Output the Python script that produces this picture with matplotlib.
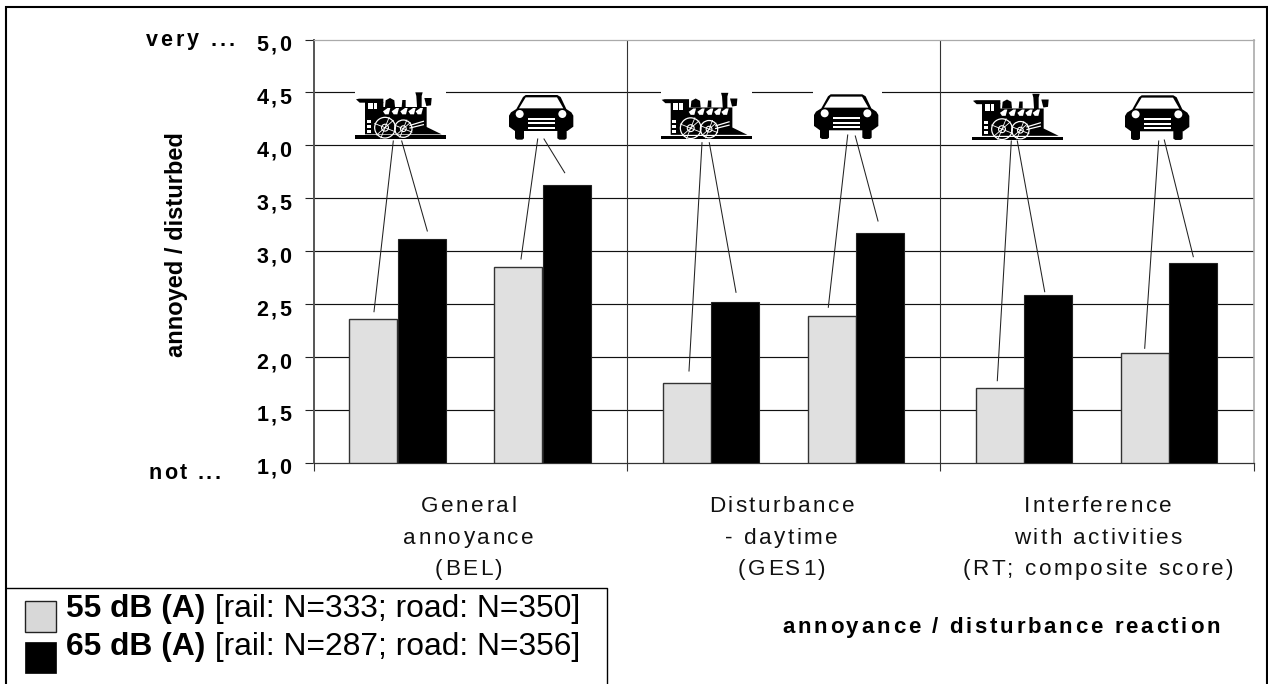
import numpy as np
import matplotlib
matplotlib.use('Agg')
import matplotlib.pyplot as plt
from matplotlib import font_manager
from matplotlib.ft2font import LoadFlags
from matplotlib.patches import Rectangle, Polygon, Circle
from matplotlib.text import Text
from matplotlib.transforms import IdentityTransform, ScaledTranslation

plt.rcParams['font.family'] = ['Liberation Sans', 'DejaVu Sans']

categories = ['General\nannoyance\n(BEL)', 'Disturbance\n- daytime\n(GES1)',
              'Interference\nwith activities\n(RT; composite score)']
rail_55 = [2.36, 1.76, 1.71]
rail_65 = [3.12, 2.52, 2.59]
road_55 = [2.85, 2.39, 2.04]
road_65 = [3.63, 3.17, 2.89]
y_ticks = [1.0, 1.5, 2.0, 2.5, 3.0, 3.5, 4.0, 4.5, 5.0]
y_tick_labels = ['1,0', '1,5', '2,0', '2,5', '3,0', '3,5', '4,0', '4,5', '5,0']
legend_bold = ['55 dB (A)', '65 dB (A)']
legend_rest = [' [rail: N=333; road: N=350]', ' [rail: N=287; road: N=356]']

GREY = '#e0e0e0'

W, H = 1268, 684
fig = plt.figure(figsize=(W / 100, H / 100), dpi=100)
ax = fig.add_axes([314 / W, 1 - 463 / H, (1253.5 - 314) / W, (463 - 39.5) / H])
ax.set_xlim(0, 3)
ax.set_ylim(1, 5)


def spaced(t, gap, pitch=0):
    """Letter-spacing for one Text: the artist keeps its string, only the draw changes."""
    def draw(renderer):
        fp = t.get_fontproperties()
        font = font_manager.get_font(font_manager.findfont(fp))
        font.set_size(fp.get_size_in_points(), fig.dpi)
        x, y = t.get_transform().transform(t.get_unitless_position())
        ang = np.deg2rad(t.get_rotation())
        along = np.array([np.cos(ang), np.sin(ang)])
        down = np.array([np.sin(ang), -np.cos(ang)])
        for n, line in enumerate(t.get_text().split('\n')):
            adv = [font.load_char(ord(c), flags=LoadFlags.NO_HINTING).linearHoriAdvance / 65536 for c in line]
            total = sum(adv) + gap * (len(line) - 1)
            shift = {'left': 0, 'center': total / 2, 'right': total}[t.get_ha()]
            pos = np.array([x, y]) - along * shift + down * pitch * n
            for c, a in zip(line, adv):
                if c != ' ':
                    g = Text(pos[0], pos[1], c, fontproperties=fp, color=t.get_color(), rotation=t.get_rotation(),
                             rotation_mode='anchor', ha='left', va='baseline', transform=IdentityTransform())
                    g.set_figure(fig)
                    g.draw(renderer)
                pos = pos + along * (a + gap)
        t.stale = False
    t.draw = draw
    return t


# bars, offsets inside each category
bar_w = 0.1534
for i in range(3):
    ax.bar(i + 0.113, rail_55[i] - 1, bar_w, bottom=1, align='edge', color=GREY, edgecolor='#333333', lw=1, zorder=3)
    ax.bar(i + 0.267, rail_65[i] - 1, bar_w, bottom=1, align='edge', color='black', edgecolor='#222222', lw=0.8, zorder=3)
    ax.bar(i + 0.576, road_55[i] - 1, bar_w, bottom=1, align='edge', color=GREY, edgecolor='#333333', lw=1, zorder=3)
    ax.bar(i + 0.730, road_65[i] - 1, bar_w, bottom=1, align='edge', color='black', edgecolor='#222222', lw=0.8, zorder=3)

ax.set_yticks(y_ticks)
ax.set_yticklabels(y_tick_labels, fontsize=15.5, fontweight='bold')
ax.set_xticks([0, 1, 2, 3])
ax.set_xticklabels([])
ax.tick_params(axis='y', length=6.5, width=0.8, pad=10, color='#222222')
ax.tick_params(axis='x', length=5.5, width=0.8, color='#333333')
for lab in ax.get_yticklabels():
    lab.set_va('baseline')
    lab.set_transform(lab.get_transform() + ScaledTranslation(0, -8.2 / 72, fig.dpi_scale_trans))
    spaced(lab, 2.5)
for v in y_ticks[1:-1]:
    ax.axhline(v, color='#111111', lw=0.85, zorder=1)
for x in [1, 2]:
    ax.axvline(x, color='#333333', lw=0.8, zorder=1)
ax.spines['left'].set_color('#555555')
ax.spines['left'].set_linewidth(1.4)
ax.spines['bottom'].set_color('#333333')
ax.spines['bottom'].set_linewidth(0.9)
ax.spines['top'].set_color('#aaaaaa')
ax.spines['top'].set_linewidth(0.9)
ax.spines['right'].set_color('#aaaaaa')
ax.spines['right'].set_linewidth(1.2)

# overlay in pixel coordinates for icons, leaders, frame and legend
ov = fig.add_axes([0, 0, 1, 1], facecolor='none')
ov.set_xlim(0, W)
ov.set_ylim(H, 0)
ov.axis('off')


def train(x0, y0):
    # outline traced from the locomotive, local units = 1/3 pixel
    def p(pts):
        return [(x0 + a / 3, y0 + b / 3) for a, b in pts]
    k = dict(color='black', lw=0, zorder=6)
    ov.add_patch(Polygon(p([(0, 130), (273, 130), (273, 140), (0, 140)]), **k))
    ov.add_patch(Polygon(p([(3, 22), (12, 20), (85, 20), (85, 32), (30, 32), (14, 32)]), **k))
    ov.add_patch(Polygon(p([(30, 30), (85, 30), (85, 45), (215, 45), (215, 105), (260, 127), (30, 127)]), **k))
    ov.add_patch(Polygon(p([(181, 1), (203, 1), (200, 12), (200, 60), (187, 60), (184, 12)]), **k))
    ov.add_patch(Polygon(p([(90, 45), (92, 25), (105, 18), (118, 25), (120, 45)]), **k))
    ov.add_patch(Polygon(p([(140, 45), (142, 24), (152, 24), (152, 45)]), **k))
    ov.add_patch(Polygon(p([(208, 18), (230, 18), (228, 40), (214, 42)]), **k))
    w = dict(color='white', lw=0, zorder=7)
    ov.add_patch(Polygon(p([(38, 32), (53, 32), (53, 52), (38, 52)]), **w))
    ov.add_patch(Polygon(p([(56, 32), (66, 32), (66, 52), (56, 52)]), **w))
    for a in [84, 110, 136, 160, 182]:
        ov.add_patch(Polygon(p([(a, 58), (a + 14, 48), (a + 22, 48), (a + 17, 67), (a + 6, 67)]), **w))
    for b in [83, 98, 113]:
        ov.add_patch(Polygon(p([(35, b), (47, b), (47, b + 9), (35, b + 9)]), **w))
    for cx, cy, r in [(90, 107, 31), (145, 110, 26)]:
        ov.add_patch(Circle((x0 + cx / 3, y0 + cy / 3), r / 3, fc='none', ec='white', lw=0.9, zorder=7))
        ov.add_patch(Circle((x0 + cx / 3, y0 + cy / 3), r / 9, fc='none', ec='white', lw=0.8, zorder=7))
        for d in [(-1, -0.4), (1, 0.4), (0.4, -1), (-0.4, 1), (0.8, -0.7), (-0.8, 0.7)]:
            ov.plot([x0 + cx / 3, x0 + (cx + r * d[0]) / 3], [y0 + cy / 3, y0 + (cy + r * d[1]) / 3],
                    color='white', lw=0.6, zorder=7)
    ov.plot([x0 + 165 / 3, x0 + 205 / 3], [y0 + 100 / 3, y0 + 88 / 3], color='white', lw=0.9, zorder=7)
    ov.plot([x0 + 165 / 3, x0 + 205 / 3], [y0 + 108 / 3, y0 + 98 / 3], color='white', lw=0.9, zorder=7)


def car(x0, y0):
    def p(pts):
        return [(x0 + a / 3, y0 + b / 3) for a, b in pts]
    k = dict(color='black', lw=0, zorder=6)
    ov.add_patch(Polygon(p([(0, 62), (6, 52), (22, 42), (42, 6), (50, 0), (145, 0), (155, 6), (172, 42), (187, 52), (193, 62),
                            (193, 95), (175, 108), (18, 108), (0, 95)]), **k))
    ov.add_patch(Polygon(p([(18, 105), (45, 105), (45, 130), (40, 134), (24, 134), (18, 130)]), **k))
    ov.add_patch(Polygon(p([(145, 105), (173, 105), (173, 130), (168, 134), (151, 134), (145, 130)]), **k))
    w = dict(color='white', lw=0, zorder=7)
    ov.add_patch(Polygon(p([(30, 40), (50, 7), (144, 7), (163, 40)]), **w))
    ov.add_patch(Circle((x0 + 32 / 3, y0 + 57 / 3), 12 / 3, color='white', lw=0, zorder=7))
    ov.add_patch(Circle((x0 + 160 / 3, y0 + 57 / 3), 12 / 3, color='white', lw=0, zorder=7))
    for b in [69, 82, 95]:
        ov.add_patch(Polygon(p([(57, b), (138, b), (138, b + 6), (57, b + 6)]), **w))


# white strips breaking the 4,5 gridline
ov.add_patch(Rectangle((355, 90), 91, 4, color='white', lw=0, zorder=5))
ov.add_patch(Rectangle((660.5, 90), 91.5, 4, color='white', lw=0, zorder=5))
ov.add_patch(Rectangle((813, 90), 69, 4, color='white', lw=0, zorder=5))

for x0, y0 in [(355, 92), (660.7, 92.5), (972, 93.5)]:
    train(x0, y0)
for x0, y0 in [(509, 95), (814, 94.3), (1125, 95.3)]:
    car(x0, y0)

leaders = [
    (393.3, 141, 374, 311.7), (401.7, 141, 427.3, 231), (537.7, 139, 521, 259), (544, 139, 564.7, 172.7),
    (702, 142.7, 689, 371), (709.3, 142.7, 736, 292.3), (847.7, 135, 828.3, 307.3), (855.3, 136, 878, 221),
    (1011.3, 141, 997.3, 380.7), (1017.3, 141, 1044.7, 291.7), (1158.7, 141, 1144.7, 348.3), (1164.3, 140, 1193.3, 256.7),
]
for x1, y1, x2, y2 in leaders:
    ov.plot([x1, x2], [y1, y2], color='#222222', lw=0.75, zorder=8)

# outer frame
ov.plot([5.5, 5.5, 1267, 1267], [684, 6.5, 6.5, 684], color='black', lw=1.5, zorder=9, solid_joinstyle='miter')

# side labels
spaced(ov.text(234, 45.5, 'very ...', ha='right', va='baseline', fontsize=15.5, fontweight='bold', zorder=9), 2.9)
spaced(ov.text(220, 479, 'not ...', ha='right', va='baseline', fontsize=15.5, fontweight='bold', zorder=9), 2.4)
ov.text(183, 244.5, 'annoyed / disturbed', rotation=90, ha='center', va='baseline', rotation_mode='anchor',
        fontsize=17, fontweight='bold', zorder=9)

for cx, lab in zip([468.5, 781.5, 1098], categories):
    spaced(ov.text(cx, 512, lab, ha='center', va='baseline', fontsize=16.2, color='#111111', zorder=9), 2.5, pitch=31.5)

spaced(ov.text(1001, 633, 'annoyance / disturbance reaction', ha='center', va='baseline', fontsize=16,
               fontweight='bold', zorder=9), 2.7)

# legend box and swatches
ov.plot([5.5, 607, 607], [588, 588, 684], color='black', lw=1, zorder=9)
ov.add_patch(Rectangle((25, 601), 31, 31, fc='#d8d8d8', ec='#222222', lw=1, zorder=9))
ov.add_patch(Rectangle((25, 642), 31, 31, fc='black', ec='black', lw=0.5, zorder=9))
fig.canvas.draw()
rend = fig.canvas.get_renderer()
for i, base in enumerate([617.5, 654.5]):
    t = ov.text(66.5, base, legend_bold[i], ha='left', va='baseline', fontsize=22.9, fontweight='bold', zorder=9)
    bb = t.get_window_extent(rend)
    ov.text(bb.x1, base, legend_rest[i], ha='left', va='baseline', fontsize=22.9, zorder=9)

fig.savefig('out.png', dpi=100)
